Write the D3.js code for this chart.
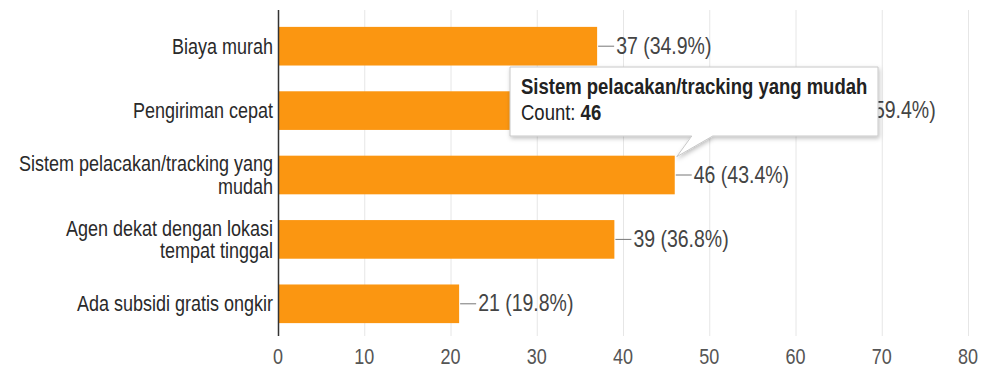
<!DOCTYPE html>
<html>
<head>
<meta charset="utf-8">
<script src="https://cdn.jsdelivr.net/npm/d3@7"></script>
<style>
  html, body { margin: 0; padding: 0; background: #fff; }
  svg { display: block; font-family: Arial, "Liberation Sans", sans-serif; }
</style>
</head>
<body>
<div id="chart"></div>
<script>
const categories = [
  "Biaya murah",
  "Pengiriman cepat",
  "Sistem pelacakan/tracking yang mudah",
  "Agen dekat dengan lokasi tempat tinggal",
  "Ada subsidi gratis ongkir",
];
const categoryLines = [
  ["Biaya murah"],
  ["Pengiriman cepat"],
  ["Sistem pelacakan/tracking yang", "mudah"],
  ["Agen dekat dengan lokasi", "tempat tinggal"],
  ["Ada subsidi gratis ongkir"],
];
const counts = [37, 63, 46, 39, 21];
const percents = ["34.9%", "59.4%", "43.4%", "36.8%", "19.8%"];
const xTicks = [0, 10, 20, 30, 40, 50, 60, 70, 80];
const tooltipIndex = 2;

const width = 986;
const height = 367;
const stretch = 1.2; // text in the picture looks vertically stretched

const svg = d3
  .create("svg")
  .attr("width", width)
  .attr("height", height)
  .attr("viewBox", [0, 0, width, height]);

const x = d3.scaleLinear().domain([0, 80]).range([278, 968]);
const y = d3
  .scaleBand()
  .domain(categories)
  .range([14, 336])
  .paddingInner(0.4)
  .paddingOuter(0.2);

// gridlines
svg
  .append("g")
  .selectAll("line")
  .data(xTicks.filter((d) => d > 0))
  .join("line")
  .attr("x1", (d) => x(d) + 0.5)
  .attr("x2", (d) => x(d) + 0.5)
  .attr("y1", 10)
  .attr("y2", 336)
  .attr("stroke", "#e6e6e6")
  .attr("stroke-width", 1);

// bars
svg
  .append("g")
  .selectAll("rect")
  .data(counts)
  .join("rect")
  .attr("x", x(0))
  .attr("y", (d, i) => y(categories[i]))
  .attr("width", (d) => x(d) - x(0))
  .attr("height", y.bandwidth())
  .attr("fill", "#fb9611");

// axis line at zero
svg
  .append("line")
  .attr("x1", x(0) + 0.5)
  .attr("x2", x(0) + 0.5)
  .attr("y1", 10)
  .attr("y2", 336)
  .attr("stroke", "#333")
  .attr("stroke-width", 1.5);

// helper for stretched text
const addText = (g, tx, ty) =>
  g.append("text").attr("transform", `translate(${tx},${ty}) scale(1,${stretch})`);

// category labels
categoryLines.forEach((lines, i) => {
  const cy = y(categories[i]) + y.bandwidth() / 2;
  const lh = 22.5;
  const top = cy - ((lines.length - 1) * lh) / 2;
  lines.forEach((line, j) => {
    addText(svg, 273, top + j * lh + 7.5)
      .attr("text-anchor", "end")
      .attr("font-size", 18)
      .attr("fill", "#2a2a2a")
      .text(line);
  });
});

// value labels with leader lines
counts.forEach((d, i) => {
  const cy = y(categories[i]) + y.bandwidth() / 2;
  svg
    .append("line")
    .attr("x1", x(d) + 1)
    .attr("x2", x(d) + 17)
    .attr("y1", cy)
    .attr("y2", cy)
    .attr("stroke", "#777")
    .attr("stroke-width", 1);
  addText(svg, x(d) + 19, cy + 7.5)
    .attr("font-size", 19.5)
    .attr("fill", "#444")
    .text(`${d} (${percents[i]})`);
});

// x tick labels
xTicks.forEach((t) => {
  addText(svg, x(t), 364)
    .attr("text-anchor", "middle")
    .attr("font-size", 18)
    .attr("fill", "#555")
    .text(t);
});

// tooltip
const defs = svg.append("defs");
const shadow = defs.append("filter").attr("id", "shadow").attr("x", "-10%").attr("y", "-20%").attr("width", "130%").attr("height", "160%");
shadow
  .append("feDropShadow")
  .attr("dx", 1)
  .attr("dy", 2)
  .attr("stdDeviation", 2)
  .attr("flood-color", "#000")
  .attr("flood-opacity", 0.25);

const tipX = x(counts[tooltipIndex]) + 2;
const tipY = y(categories[tooltipIndex]) + 1;
const bx0 = 510, bx1 = 878, by0 = 67, by1 = 136;
const tip = svg.append("g");
tip
  .append("path")
  .attr(
    "d",
    `M${bx0},${by0} H${bx1} V${by1} H${tipX + 36} L${tipX},${tipY} L${tipX + 15},${by1} H${bx0} Z`
  )
  .attr("fill", "#fff")
  .attr("stroke", "#c8c8c8")
  .attr("stroke-width", 1)
  .attr("filter", "url(#shadow)");

addText(tip, 521, 94)
  .attr("font-size", 18.5)
  .attr("font-weight", "bold")
  .attr("fill", "#222")
  .text(categories[tooltipIndex]);

const countText = addText(tip, 521, 120).attr("font-size", 18.5).attr("fill", "#222");
countText.append("tspan").text("Count: ");
countText.append("tspan").attr("font-weight", "bold").text(counts[tooltipIndex]);

document.getElementById("chart").appendChild(svg.node());
</script>
</body>
</html>
